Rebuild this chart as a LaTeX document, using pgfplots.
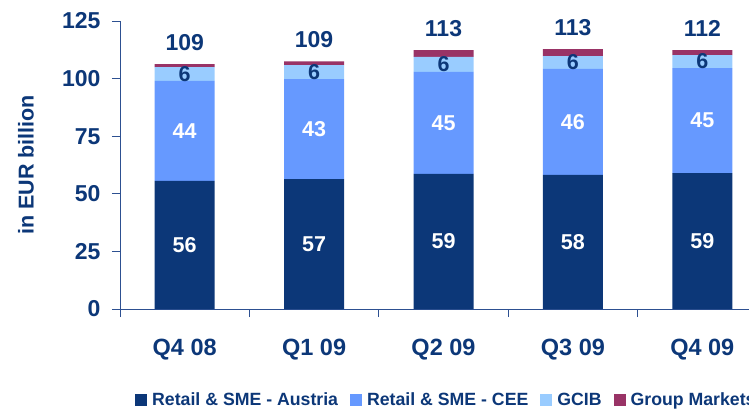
\documentclass[border=0pt]{standalone}
\usepackage{pgfplots}
\pgfplotsset{compat=1.18}
\usepackage{fontspec}
\setmainfont{Liberation Sans}
\definecolor{navy}{RGB}{12,55,120}
\definecolor{cee}{RGB}{102,153,255}
\definecolor{gcib}{RGB}{153,204,255}
\definecolor{gm}{RGB}{153,51,102}
\definecolor{axc}{RGB}{45,80,145}
\tikzset{
  seglab/.style={font=\bfseries\fontsize{21.5}{23}\selectfont, inner sep=0pt},
  totlab/.style={font=\bfseries\fontsize{23}{25}\selectfont, text=navy, inner sep=0pt, anchor=base, yshift=14pt}
}
\begin{document}
\begin{tikzpicture}[x=1pt,y=1pt]
\begin{axis}[
  at={(120pt,101pt)}, anchor=south west,
  scale only axis, width=647pt, height=288pt,
  ymin=0, ymax=125, xmin=-0.5, xmax=4.5,
  ybar stacked, bar width=60pt,
  axis x line*=bottom, axis y line*=left,
  axis line style={draw=axc, line width=0.9pt},
  tick style={draw=axc, line width=0.9pt},
  tick align=outside, major tick length=8pt,
  /pgf/number format/assume math mode=true,
  xtick={-0.5,0.5,1.5,2.5,3.5,4.5}, xticklabels={},
  extra x ticks={0,1,2,3,4},
  extra x tick labels={Q4 08,Q1 09,Q2 09,Q3 09,Q4 09},
  extra x tick style={major tick length=0pt,
     xticklabel style={font=\bfseries\fontsize{23.5}{25}\selectfont, text=navy, yshift=-27pt}},
  ytick={0,25,50,75,100,125},
  yticklabel style={font=\bfseries\fontsize{23}{25}\selectfont, text=navy, xshift=-8pt},
  ylabel={in EUR billion},
  every axis y label/.style={at={(axis description cs:-0.1453,0.5)}, rotate=90, anchor=center,
     font=\bfseries\fontsize{21.5}{23}\selectfont, text=navy},
  legend columns=4,
  legend image code/.code={\fill[#1] (0pt,-6pt) rectangle (12pt,6pt);},
  legend style={at={(axis description cs:0.0232,-0.3160)}, anchor=west, draw=none, fill=none,
     font=\bfseries\fontsize{17.7}{19}\selectfont, text=navy, inner sep=0pt,
     nodes={inner sep=0pt},
     /tikz/every odd column/.append style={column sep=5pt},
     /tikz/every even column/.append style={column sep=12pt}},
]
\addplot[fill=navy, draw=none] coordinates {(0,55.6) (1,56.4) (2,58.6) (3,58.2) (4,59.0)};
\addlegendentry{Retail \& SME - Austria}
\addplot[fill=cee, draw=none] coordinates {(0,43.4) (1,43.4) (2,44.3) (3,46.0) (4,45.6)};
\addlegendentry{Retail \& SME - CEE}
\addplot[fill=gcib, draw=none] coordinates {(0,6.0) (1,6.1) (2,6.5) (3,5.6) (4,5.6)};
\addlegendentry{GCIB}
\addplot[fill=gm, draw=none] coordinates {(0,1.3) (1,1.6) (2,3.0) (3,3.0) (4,2.2)};
\addlegendentry{Group Markets}
\coordinate (a0) at (axis cs:0,27.8);
\coordinate (a1) at (axis cs:1,28.2);
\coordinate (a2) at (axis cs:2,29.3);
\coordinate (a3) at (axis cs:3,29.1);
\coordinate (a4) at (axis cs:4,29.5);
\coordinate (c0) at (axis cs:0,77.3);
\coordinate (c1) at (axis cs:1,78.1);
\coordinate (c2) at (axis cs:2,80.8);
\coordinate (c3) at (axis cs:3,81.2);
\coordinate (c4) at (axis cs:4,81.8);
\coordinate (g0) at (axis cs:0,102.0);
\coordinate (g1) at (axis cs:1,102.9);
\coordinate (g2) at (axis cs:2,106.2);
\coordinate (g3) at (axis cs:3,107.0);
\coordinate (g4) at (axis cs:4,107.4);
\coordinate (t0) at (axis cs:0,106.3);
\coordinate (t1) at (axis cs:1,107.5);
\coordinate (t2) at (axis cs:2,112.4);
\coordinate (t3) at (axis cs:3,112.8);
\coordinate (t4) at (axis cs:4,112.4);
\end{axis}
\node[seglab, text=white] at (a0) {56};
\node[seglab, text=white] at (a1) {57};
\node[seglab, text=white] at (a2) {59};
\node[seglab, text=white] at (a3) {58};
\node[seglab, text=white] at (a4) {59};
\node[seglab, text=white] at (c0) {44};
\node[seglab, text=white] at (c1) {43};
\node[seglab, text=white] at (c2) {45};
\node[seglab, text=white] at (c3) {46};
\node[seglab, text=white] at (c4) {45};
\node[seglab, text=navy] at (g0) {6};
\node[seglab, text=navy] at (g1) {6};
\node[seglab, text=navy] at (g2) {6};
\node[seglab, text=navy] at (g3) {6};
\node[seglab, text=navy] at (g4) {6};
\node[totlab] at (t0) {109};
\node[totlab] at (t1) {109};
\node[totlab] at (t2) {113};
\node[totlab] at (t3) {113};
\node[totlab] at (t4) {112};
\pgfresetboundingbox
\useasboundingbox (0,0) rectangle (749,410);
\end{tikzpicture}
\end{document}
